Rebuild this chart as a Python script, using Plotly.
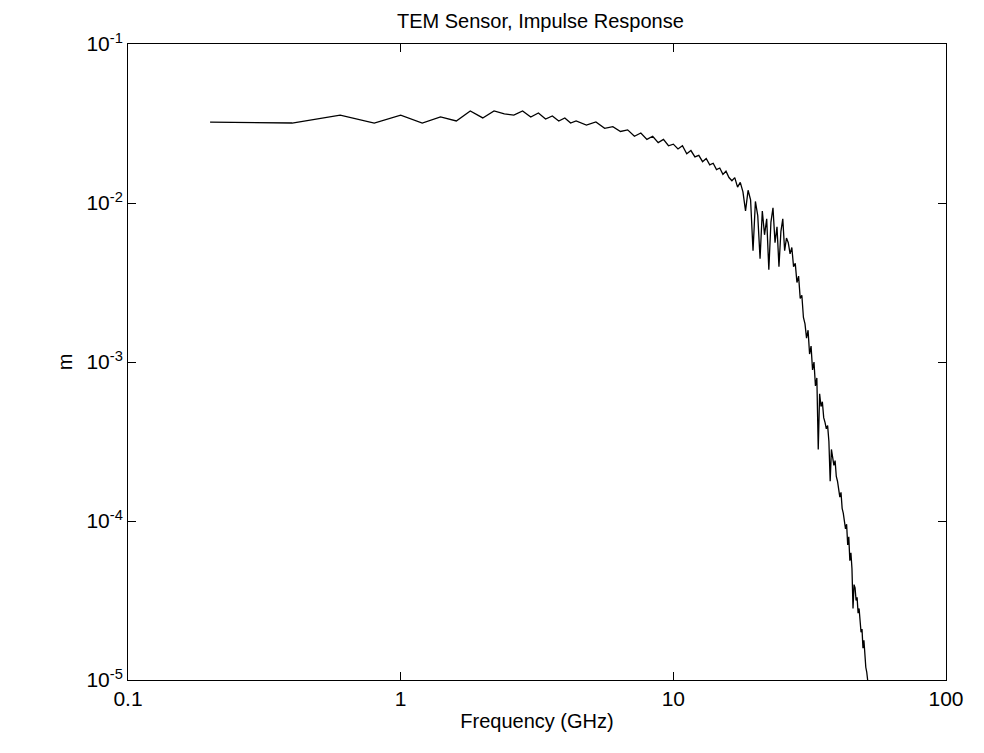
import plotly.graph_objects as go
import numpy as np

# Frequency (GHz)
freq_low = [0.2, 0.4, 0.6, 0.8, 1.0, 1.2, 1.4, 1.6, 1.8, 2.0, 2.2, 2.4, 2.6, 2.8, 3.0,
            3.2, 3.4, 3.6, 3.8, 4.0, 4.2, 4.4]
freq_high = [4.8, 5.2, 5.6, 6.0, 6.4, 6.8, 7.2, 7.6, 8.0, 8.4, 8.8, 9.2, 9.6, 10.0,
             10.4, 10.8, 11.2, 11.6, 12.0, 12.4, 12.8, 13.2, 13.6, 14.0, 14.4, 14.8, 15.2, 15.6, 16.0,
             16.4, 16.8, 17.2, 17.6, 18.0, 18.4, 18.8, 19.2, 19.6, 20.0,
             20.4, 20.8, 21.2, 21.6, 22.0, 22.4, 22.8, 23.2, 23.6, 24.0, 24.4, 24.8, 25.2, 25.6, 26.0,
             26.4, 26.8, 27.2, 27.6, 28.0, 28.4, 28.8, 29.2, 29.6, 30.0,
             30.4, 30.8, 31.2, 31.6, 32.0, 32.4, 32.8, 33.2, 33.6, 34.0, 34.4, 34.8, 35.2, 35.6, 36.0,
             36.4, 36.8, 37.2, 37.6, 38.0, 38.4, 38.8, 39.2, 39.6, 40.0,
             40.4, 40.8, 41.2, 41.6, 42.0, 42.4, 42.8, 43.2, 43.6, 44.0, 44.4, 44.8, 45.2, 45.6, 46.0,
             46.4, 46.8, 47.2, 47.6, 48.0, 48.4, 48.8, 49.2, 49.6, 50.0, 50.4, 50.8, 51.2, 51.6, 52.0]

# log10 of response (m)
log_low = [-1.491, -1.497, -1.447, -1.497, -1.447, -1.497, -1.459, -1.484, -1.421, -1.465,
           -1.421, -1.44, -1.447, -1.421, -1.459, -1.434, -1.472, -1.453, -1.484, -1.465,
           -1.497, -1.484]
log_high = [-1.51, -1.49, -1.53, -1.52, -1.55, -1.54, -1.58, -1.56, -1.60, -1.58, -1.62, -1.60, -1.64, -1.63,
            -1.66, -1.64, -1.69, -1.67, -1.71, -1.70, -1.74, -1.72, -1.76, -1.75, -1.79, -1.78, -1.82, -1.80, -1.84,
            -1.86, -1.84, -1.90, -1.87, -1.93, -2.05, -1.92, -1.98, -2.30, -1.99,
            -2.08, -2.35, -2.05, -2.20, -2.10, -2.42, -2.12, -2.03, -2.25, -2.15, -2.40, -2.18, -2.10, -2.30, -2.22,
            -2.25, -2.32, -2.28, -2.40, -2.38, -2.50, -2.46, -2.60, -2.58, -2.72,
            -2.76, -2.85, -2.80, -2.95, -2.90, -3.05, -3.00, -3.15, -3.10, -3.55, -3.20, -3.28, -3.25, -3.35, -3.38,
            -3.42, -3.40, -3.50, -3.75, -3.55, -3.60, -3.65, -3.62, -3.72, -3.75,
            -3.80, -3.85, -3.82, -3.92, -3.95, -4.00, -4.05, -4.02, -4.15, -4.10, -4.25, -4.20, -4.30, -4.55, -4.40,
            -4.42, -4.50, -4.48, -4.58, -4.55, -4.65, -4.70, -4.68, -4.80, -4.75, -4.88, -4.92, -4.95, -5.00, -5.05]

freq = freq_low + freq_high
resp = 10 ** np.array(log_low + log_high)

xticks = [0.1, 1, 10, 100]
xlabels = ["0.1", "1", "10", "100"]
yticks = [1e-5, 1e-4, 1e-3, 1e-2, 1e-1]
ylabels = ["10<sup>-5</sup>", "10<sup>-4</sup>", "10<sup>-3</sup>", "10<sup>-2</sup>", "10<sup>-1</sup>"]

fig = go.Figure()
fig.add_trace(go.Scatter(x=freq, y=resp, mode="lines", line=dict(color="black", width=1.3),
                         showlegend=False))

axis_style = dict(type="log", showgrid=False, zeroline=False, showline=True, linecolor="black",
                  linewidth=1, mirror="ticks", ticks="inside", ticklen=8, tickcolor="black",
                  tickfont=dict(size=21, color="black"))
fig.update_xaxes(range=[-1, 2], tickvals=xticks, ticktext=xlabels,
                 title=dict(text="Frequency (GHz)", font=dict(size=20, color="black"), standoff=4),
                 **axis_style)
fig.update_yaxes(range=[-5, -1], tickvals=yticks, ticktext=ylabels,
                 title=dict(text="m", font=dict(size=20, color="black"), standoff=8),
                 **axis_style)
fig.update_layout(
    width=968, height=737,
    margin=dict(l=120, r=22, t=36, b=65),
    plot_bgcolor="white", paper_bgcolor="white",
    font=dict(family="Liberation Sans, Arial, sans-serif", size=20, color="black"),
    title=dict(text="TEM Sensor, Impulse Response", x=0.55, xanchor="center", y=0.992, yanchor="top",
               font=dict(size=20, color="black")),
)
fig.write_html("out.html")
